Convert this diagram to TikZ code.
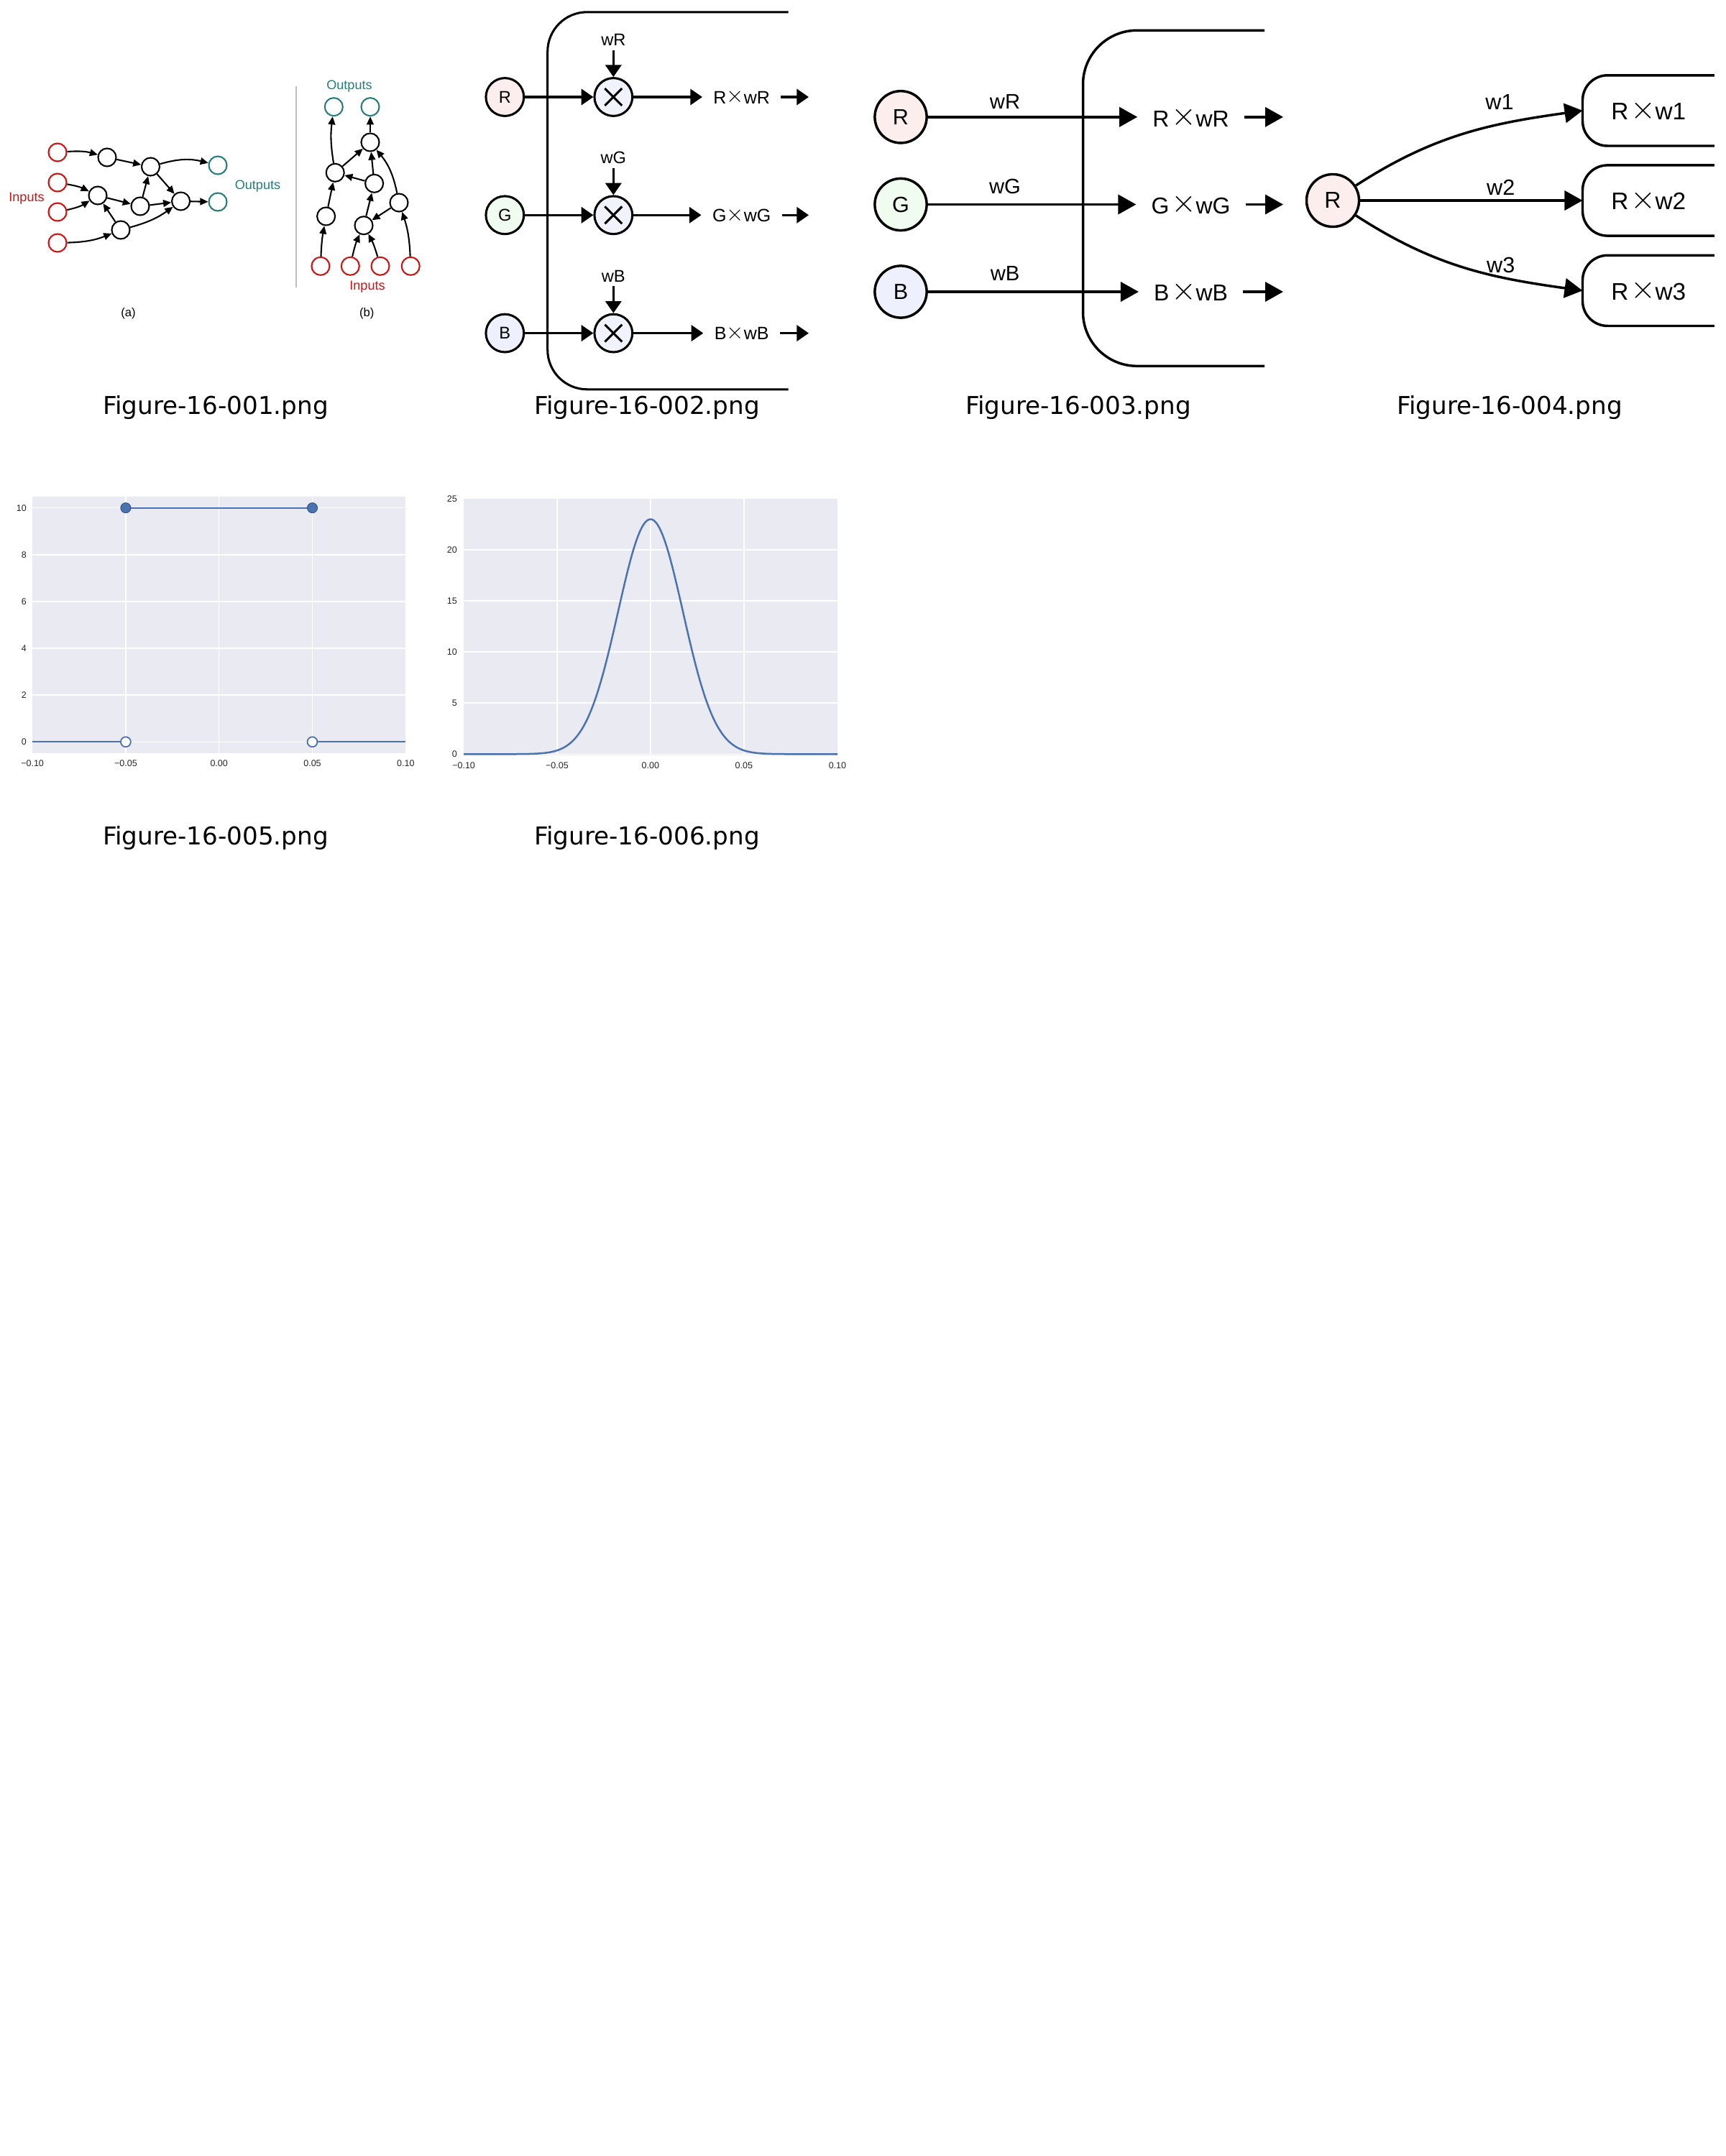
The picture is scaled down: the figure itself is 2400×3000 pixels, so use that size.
\documentclass[tikz,border=0pt]{standalone}
\usepackage{fontspec}
\setmainfont{Liberation Sans}
\newfontfamily\capfont{DejaVu Sans}
\usetikzlibrary{arrows.meta,calc}
\newcommand{\tms}[2]{\kern#1\raisebox{0.05em}{\scalebox{1.3}{$\times$}}\kern#2}
\definecolor{figred}{RGB}{204,20,20}
\definecolor{figteal}{RGB}{40,124,124}
\definecolor{divgray}{RGB}{190,190,190}
\definecolor{rfill}{RGB}{253,238,238}
\definecolor{gfill}{RGB}{240,252,240}
\definecolor{bfill}{RGB}{238,240,253}
\definecolor{mfill}{RGB}{240,242,252}
\definecolor{sbbg}{RGB}{234,234,242}
\definecolor{sbblue}{RGB}{76,114,176}
\definecolor{sbdark}{RGB}{58,88,140}
\definecolor{ticktext}{RGB}{38,38,38}
\tikzset{
  fs/.style={font=\fontsize{#1}{#1}\selectfont},
  capt/.style={font=\capfont\fontsize{24.6}{24.6}\selectfont, inner sep=0pt},
  nn/.style={circle, draw, fill=white, line width=1.5pt, minimum size=18pt, inner sep=0pt},
  inn/.style={nn, draw=figred},
  outn/.style={nn, draw=figteal},
  ea/.style={line width=1.5pt, -{Triangle[length=8pt,width=7pt]}},
  c2/.style={circle, draw, line width=2.2pt, minimum size=38pt, inner sep=0pt, fs=17},
  mult/.style={c2, fill=mfill, path picture={
      \draw[line width=2.2pt] ([shift={(-8.6pt,8.6pt)}]path picture bounding box.center) -- ([shift={(8.6pt,-8.6pt)}]path picture bounding box.center);
      \draw[line width=2.2pt] ([shift={(8.6pt,8.6pt)}]path picture bounding box.center) -- ([shift={(-8.6pt,-8.6pt)}]path picture bounding box.center);}},
  a2/.style={line width=2.2pt, -{Triangle[length=12pt,width=16pt]}},
  wlab2/.style={fs=17, anchor=south, inner xsep=0pt, inner ysep=4pt},
  prod2/.style={fs=18, inner xsep=11pt, inner ysep=0pt},
  c3/.style={circle, draw, line width=2.5pt, minimum size=52pt, inner sep=0pt, fs=22},
  a3/.style={line width=2.5pt, -{Triangle[length=18pt,width=19.5pt]}},
  prod3/.style={fs=23, inner xsep=15pt, inner ysep=0pt},
  c4/.style={circle, draw, line width=2.5pt, minimum size=52.6pt, inner sep=0pt, fs=23},
  box4/.style={minimum width=131.7pt, minimum height=70.3pt, inner sep=0pt, fs=24},
  boxline/.style={line width=2.5pt, rounded corners=25pt},
  tk/.style={fs=9, text=ticktext, inner sep=0pt},
  grid/.style={white, line width=1.1pt},
}
\begin{document}
\begin{tikzpicture}[x=0.72pt,y=0.72pt]
\useasboundingbox (0,0) rectangle (2400,-3000);
\fill[white] (0,0) rectangle (2400,-3000);

% ---------------- Figure 1 (a)
\node[inn] (ai1) at (80,-212) {};
\node[inn] (ai2) at (80,-254) {};
\node[inn] (ai3) at (80,-295) {};
\node[inn] (ai4) at (80,-338) {};
\node[nn] (ah1) at (149,-219) {};
\node[nn] (ah2) at (136,-272) {};
\node[nn] (ah3) at (209.5,-232) {};
\node[nn] (ah4) at (195,-287) {};
\node[nn] (ah5) at (168,-320) {};
\node[nn] (ah6) at (251.6,-280) {};
\node[outn] (ao1) at (303,-230) {};
\node[outn] (ao2) at (303,-281) {};
\node[fs=13, text=figred, inner sep=0pt] (ainl) at (37,-276) {Inputs};
\node[fs=13, text=figteal, inner sep=0pt] (aoutl) at (358.5,-259) {Outputs};
\node[fs=12, inner sep=0pt] (acap) at (178.5,-436) {(a)};
\draw[ea] (ai1) to[bend left=10] (ah1);
\draw[ea] (ah1) -- (ah3);
\draw[ea] (ai2) to[bend left=8] (ah2);
\draw[ea] (ai3) to[bend right=10] (ah2);
\draw[ea] (ah2) -- (ah4);
\draw[ea] (ai4) to[bend right=10] (ah5);
\draw[ea] (ah5) -- (ah2);
\draw[ea] (ah4) -- (ah3);
\draw[ea] (ah3) to[bend left=15] (ao1);
\draw[ea] (ah3) -- (ah6);
\draw[ea] (ah4) -- (ah6);
\draw[ea] (ah5) to[bend right=10] (ah6);
\draw[ea] (ah6) -- (ao2);
% divider
\draw[divgray, line width=1.1pt] (412,-120.3) -- (412,-400.3);
% ---------------- Figure 1 (b)
\node[outn] (bo1) at (464.3,-148.7) {};
\node[outn] (bo2) at (515,-148.7) {};
\node[fs=13, text=figteal, inner sep=0pt] (boutl) at (486,-120.3) {Outputs};
\node[nn] (bh1) at (515,-198) {};
\node[nn] (bh2) at (466.2,-240.3) {};
\node[nn] (bh3) at (520.6,-255.3) {};
\node[nn] (bh4) at (453.6,-301) {};
\node[nn] (bh5) at (555,-282) {};
\node[nn] (bh6) at (506,-313.7) {};
\node[inn] (bi1) at (445.9,-370.3) {};
\node[inn] (bi2) at (487.3,-370.3) {};
\node[inn] (bi3) at (529,-370.3) {};
\node[inn] (bi4) at (571.2,-370.3) {};
\node[fs=13, text=figred, inner sep=0pt] (binl) at (511,-398.7) {Inputs};
\node[fs=12, inner sep=0pt] (bcap) at (510.3,-436) {(b)};
\draw[ea] (bh2) to[bend left=8] (bo1);
\draw[ea] (bh1) -- (bo2);
\draw[ea] (bh2) -- (bh1);
\draw[ea] (bh3) -- (bh1);
\draw[ea] (bh5) to[bend right=14] (bh1);
\draw[ea] (bh3) -- (bh2);
\draw[ea] (bh4) -- (bh2);
\draw[ea] (bh6) -- (bh3);
\draw[ea] (bh5) -- (bh6);
\draw[ea] (bi1) to[bend left=4] (bh4);
\draw[ea] (bi2) to[bend left=6] (bh6);
\draw[ea] (bi3) to[bend right=6] (bh6);
\draw[ea] (bi4) to[bend right=8] (bh5);

% ---------------- Figure 2
\draw[line width=2.2pt, rounded corners=39.6pt] (1096.7,-16.8) -- (761.7,-16.8) -- (761.7,-541.8) -- (1096.7,-541.8);
\node[c2, fill=rfill] (r2) at (702.3,-135) {R};
\node[c2, fill=gfill] (g2) at (702.3,-299.3) {G};
\node[c2, fill=bfill] (b2) at (702.3,-463.6) {B};
\node[mult] (m2r) at (853.3,-135) {};
\node[mult] (m2g) at (853.3,-299.3) {};
\node[mult] (m2b) at (853.3,-463.6) {};
\node[wlab2] (w2r) at (853.3,-69.6) {wR};
\node[wlab2] (w2g) at (853.3,-233.9) {wG};
\node[wlab2] (w2b) at (853.3,-398.2) {wB};
\draw[a2] (w2r.south) -- (m2r.north);
\draw[a2] (w2g.south) -- (m2g.north);
\draw[a2] (w2b.south) -- (m2b.north);
\draw[a2] (r2) -- (m2r);
\draw[a2] (g2) -- (m2g);
\draw[a2] (b2) -- (m2b);
\node[prod2] (p2r) at (1031.7,-135) {R\tms{0em}{0em}wR};
\node[prod2] (p2g) at (1031.7,-299.3) {G\tms{0em}{0em}wG};
\node[prod2] (p2b) at (1031.7,-463.6) {B\tms{0em}{0em}wB};
\draw[a2] (m2r) -- (m2r -| p2r.west);
\draw[a2] (m2g) -- (m2g -| p2g.west);
\draw[a2] (m2b) -- (m2b -| p2b.west);
\coordinate (e2r) at (1125,-135);
\coordinate (e2g) at (1125,-299.3);
\coordinate (e2b) at (1125,-463.6);
\draw[a2] (e2r -| p2r.east) -- (e2r);
\draw[a2] (e2g -| p2g.east) -- (e2g);
\draw[a2] (e2b -| p2b.east) -- (e2b);

% ---------------- Figure 3
\draw[line width=2.5pt, rounded corners=54pt] (1759,-42.3) -- (1506.5,-42.3) -- (1506.5,-509.3) -- (1759,-509.3);
\node[c3, fill=rfill] (r3) at (1253,-162.8) {R};
\node[c3, fill=gfill] (g3) at (1253,-284.5) {G};
\node[c3, fill=bfill] (b3) at (1253,-406) {B};
\node[prod3] (p3r) at (1656.5,-163.5) {R\tms{0.1em}{-0.03em}wR};
\node[prod3] (p3g) at (1656.5,-284.5) {G\tms{0.1em}{-0.03em}wG};
\node[prod3] (p3b) at (1656.5,-406) {B\tms{0.1em}{-0.03em}wB};
\draw[a3] (r3) -- (r3 -| p3r.west);
\draw[a3] (g3) -- (g3 -| p3g.west);
\draw[a3] (b3) -- (b3 -| p3b.west);
\coordinate (e3r) at (1785,-162.8);
\coordinate (e3g) at (1785,-284.5);
\coordinate (e3b) at (1785,-406);
\draw[a3] (e3r -| p3r.east) -- (e3r);
\draw[a3] (e3g -| p3g.east) -- (e3g);
\draw[a3] (e3b -| p3b.east) -- (e3b);
\node[fs=21, inner sep=0pt] (w3r) at (1398,-141) {wR};
\node[fs=21, inner sep=0pt] (w3g) at (1398,-259) {wG};
\node[fs=21, inner sep=0pt] (w3b) at (1398,-380) {wB};

% ---------------- Figure 4
\node[c4, fill=rfill] (r4) at (1854,-279) {R};
\node[box4] (q1) at (2293.2,-153.9) {R\tms{0.1em}{-0.03em}w1};
\node[box4] (q2) at (2293.2,-279) {R\tms{0.1em}{-0.03em}w2};
\node[box4] (q3) at (2293.2,-404.4) {R\tms{0.1em}{-0.03em}w3};
\draw[boxline] (q1.north east) -- (q1.north west) -- (q1.south west) -- (q1.south east);
\draw[boxline] (q2.north east) -- (q2.north west) -- (q2.south west) -- (q2.south east);
\draw[boxline] (q3.north east) -- (q3.north west) -- (q3.south west) -- (q3.south east);
\draw[a3] (r4) to[out=33,in=188] (q1.west);
\draw[a3] (r4) -- (q2.west);
\draw[a3] (r4) to[out=-33,in=172] (q3.west);
\node[fs=22, inner sep=0pt] (w41) at (2086,-141.5) {w1};
\node[fs=22, inner sep=0pt] (w42) at (2087.7,-261) {w2};
\node[fs=22, inner sep=0pt] (w43) at (2087.7,-369) {w3};

% ---------------- Figure 5
\fill[sbbg] (45.1,-690.7) rectangle (564.3,-1048.3);
\foreach \gx in {174.9,304.7,434.5} \draw[grid] (\gx,-690.7) -- (\gx,-1048.3);
\foreach \gy in {1032.3,967.2,902.1,837.0,771.8,706.7} \draw[grid] (45.1,-\gy) -- (564.3,-\gy);
\draw[sbblue, line width=1.6pt] (45.1,-1032.3) -- (174.9,-1032.3);
\draw[sbblue, line width=1.6pt] (434.5,-1032.3) -- (564.3,-1032.3);
\draw[sbblue, line width=1.6pt] (174.9,-706.7) -- (434.5,-706.7);
\draw[sbdark, fill=sbblue, line width=0.8pt] (174.9,-706.7) circle[radius=5pt];
\draw[sbdark, fill=sbblue, line width=0.8pt] (434.5,-706.7) circle[radius=5pt];
\draw[sbblue, fill=white, line width=1.3pt] (174.9,-1032.3) circle[radius=5pt];
\draw[sbblue, fill=white, line width=1.3pt] (434.5,-1032.3) circle[radius=5pt];
\node[tk] (x5a) at (45.1,-1061.7) {−0.10};
\node[tk] (x5b) at (174.9,-1061.7) {−0.05};
\node[tk] (x5c) at (304.7,-1061.7) {0.00};
\node[tk] (x5d) at (434.5,-1061.7) {0.05};
\node[tk] (x5e) at (564.3,-1061.7) {0.10};
\node[tk, anchor=east] (y5a) at (37,-1032.3) {0};
\node[tk, anchor=east] (y5b) at (37,-967.2) {2};
\node[tk, anchor=east] (y5c) at (37,-902.1) {4};
\node[tk, anchor=east] (y5d) at (37,-837.0) {6};
\node[tk, anchor=east] (y5e) at (37,-771.8) {8};
\node[tk, anchor=east] (y5f) at (37,-706.7) {10};

% ---------------- Figure 6
\fill[sbbg] (645.1,-694) rectangle (1164.9,-1050.7);
\foreach \gx in {774.95,904.9,1034.85} \draw[grid] (\gx,-694) -- (\gx,-1050.7);
\foreach \gy in {1049.3,978.25,907.2,836.15,765.1} \draw[grid] (645.1,-\gy) -- (1164.9,-\gy);
\draw[sbblue, line width=1.8pt] plot[domain=-100:100, samples=201, smooth] ({904.9+2.599*\x}, {-1049.3+326.8*exp(-0.5*(\x/17.35)^2)});
\node[tk] (x6a) at (645.1,-1065) {−0.10};
\node[tk] (x6b) at (774.95,-1065) {−0.05};
\node[tk] (x6c) at (904.9,-1065) {0.00};
\node[tk] (x6d) at (1034.85,-1065) {0.05};
\node[tk] (x6e) at (1164.9,-1065) {0.10};
\node[tk, anchor=east] (y6a) at (636,-1049.3) {0};
\node[tk, anchor=east] (y6b) at (636,-978.25) {5};
\node[tk, anchor=east] (y6c) at (636,-907.2) {10};
\node[tk, anchor=east] (y6d) at (636,-836.15) {15};
\node[tk, anchor=east] (y6e) at (636,-765.1) {20};
\node[tk, anchor=east] (y6f) at (636,-694) {25};

% ---------------- Captions
\node[capt] (cap1) at (300,-567) {Figure-16-001.png};
\node[capt] (cap2) at (900,-567) {Figure-16-002.png};
\node[capt] (cap3) at (1500,-567) {Figure-16-003.png};
\node[capt] (cap4) at (2100,-567) {Figure-16-004.png};
\node[capt] (cap5) at (300,-1166) {Figure-16-005.png};
\node[capt] (cap6) at (900,-1166) {Figure-16-006.png};
\end{tikzpicture}
\end{document}
